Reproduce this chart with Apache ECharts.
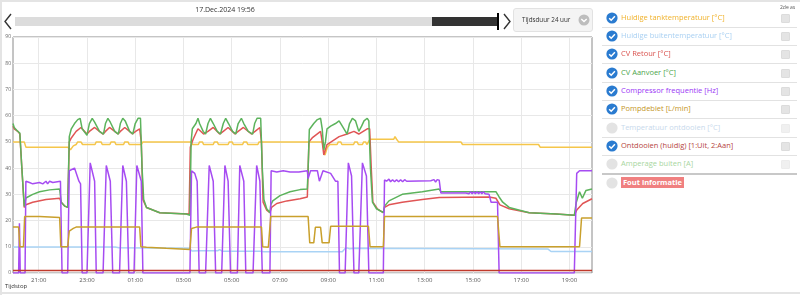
<!DOCTYPE html>
<html><head><meta charset="utf-8">
<script src="https://cdn.jsdelivr.net/npm/echarts@6/dist/echarts.min.js"></script>
<style>
html,body{margin:0;padding:0;width:800px;height:295px;overflow:hidden;background:#fff;font-family:'Open Sans',sans-serif;}
.abs{position:absolute;}
#chart{position:absolute;left:0;top:0;width:600px;height:295px;}
#title{left:0;top:5px;width:450px;text-align:center;font-size:7px;color:#333;}
#btn{left:513px;top:8px;width:78px;height:22px;background:#f4f4f4;border:1px solid #e2e2e2;border-radius:3px;}
#btn span{position:absolute;left:8px;top:6px;font-size:6.3px;color:#333;white-space:nowrap;}
.row{position:absolute;left:600px;width:200px;height:18px;}
.row .txt{position:absolute;left:21px;top:3px;font-size:7.5px;white-space:nowrap;line-height:11px;}
.row svg{position:absolute;left:6px;top:3px;}
.row .cb{position:absolute;left:181px;top:5px;width:7px;height:7px;background:#e4e4e4;border:1px solid #dcdcdc;border-radius:1px;}
.sep{position:absolute;left:602px;width:195px;height:1px;background:#e2e2e2;}
</style></head><body>
<div class="abs" style="left:0;top:0;width:800px;height:2px;background:#e4e4e4"></div>
<div class="abs" style="left:0;top:0;width:2px;height:295px;background:#e4e4e4"></div>
<div class="abs" style="left:0;top:292px;width:800px;height:2px;background:#e4e4e4"></div>
<div id="chart"></div>
<div id="title" class="abs">17.Dec.2024 19:56</div>
<svg class="abs" style="left:3px;top:13px" width="10" height="17"><polyline points="8,1 2,8.5 8,16" fill="none" stroke="#333" stroke-width="1.4"/></svg>
<div class="abs" style="left:15px;top:17px;width:417px;height:9px;background:#dcdcdc"></div>
<div class="abs" style="left:432px;top:17px;width:65px;height:9px;background:#333"></div>
<div class="abs" style="left:497px;top:13px;width:2px;height:17px;background:#000"></div>
<svg class="abs" style="left:502px;top:13px" width="10" height="17"><polyline points="2,1 8,8.5 2,16" fill="none" stroke="#333" stroke-width="1.4"/></svg>
<div id="btn" class="abs"><span>Tijdsduur 24 uur</span>
<svg style="position:absolute;left:64px;top:5px" width="12" height="12"><circle cx="6" cy="6" r="5.5" fill="#bdbdbd"/><polyline points="3.3,5 6,7.6 8.7,5" fill="none" stroke="#fff" stroke-width="1.4"/></svg></div>
<div class="abs" style="left:5px;top:282px;font-size:6px;color:#333">Tijdstop</div>
<div class="abs" style="left:780px;top:4px;font-size:5px;color:#555">2de as</div>
<div id="legend"></div>
<script>
// ---- data (time "HH:MM", value) ----
const legendNames = ["Huidige tanktemperatuur [°C]","Huidige buitentemperatuur [°C]","CV Retour [°C]","CV Aanvoer [°C]","Compressor frequentie [Hz]","Pompdebiet [L/min]","Temperatuur ontdooien [°C]","Ontdooien (huidig) [1:Uit, 2:Aan]","Amperage buiten [A]","Fout informatie"];
const legendChecked = [true,true,true,true,true,true,false,true,false,false];
const xTickLabels = ["21:00","23:00","01:00","03:00","05:00","07:00","09:00","11:00","13:00","15:00","17:00","19:00"];
const startTime = "19:56";
const endTime = "19:56";

const tankTemp = [["19:56",50],["20:24",50],["20:28",48],["22:12",48],["22:19",47],["22:26",48.5],["22:33",49],["22:37",50],["22:45",50],["22:49",49],["23:20",49],["23:23",50],["23:35",50],["23:38",49],["23:57",49],["00:00",50],["00:09",50],["00:12",49],["00:31",49],["00:34",50],["00:42",50],["00:45",49],["01:15",49],["01:19",50],["03:18",50],["03:22",49],["03:37",49],["03:40",50],["03:47",50],["03:50",49],["04:14",49],["04:17",50],["04:24",50],["04:27",49],["04:51",49],["04:54",50],["05:01",50],["05:04",49],["05:27",49],["05:30",50],["05:37",50],["05:40",49],["06:05",49],["06:08",50],["06:13",50],["06:16",49.5],["06:20",50],["08:45",50],["08:52",45],["08:58",48],["09:04",49],["09:22",49],["09:25",50],["09:31",50],["09:34",49],["10:03",49],["10:06",50],["10:12",50],["10:15",49],["10:25",49],["10:28",50],["10:33",50],["10:36",49],["10:40",49],["10:44",51],["11:43",51],["11:46",52],["11:50",51],["11:55",50],["14:30",50],["14:34",49],["17:43",49],["17:47",48],["19:56",48]];
const outdoorTemp = [["19:56",9.9],["00:10",9.9],["00:14",10.3],["00:20",9.6],["03:15",9.4],["03:21",8.4],["03:40",8.5],["04:25",8.5],["04:30",8.9],["04:36",8.3],["06:10",8.3],["06:14",9],["06:20",8.1],["09:35",8.1],["09:42",9.3],["09:47",9.6],["09:53",9.2],["10:05",9.4],["12:12",9.3],["12:15",9.9],["12:18",9.3],["12:40",9.3],["12:43",9.9],["12:46",9.3],["18:06",9.2],["18:14",8.2],["19:56",8.2]];
const cvRetour = [["19:56",56],["19:59",55],["20:08",54],["20:13",53],["20:18",40],["20:24",25],["20:28",26],["20:45",27],["21:18",28],["21:52",28.5],["21:56",27],["22:05",25.5],["22:12",25],["22:16",50],["22:21",51.5],["22:33",54],["22:45",55.5],["23:00",53],["23:06",54],["23:19",55.5],["23:31",54],["23:40",53],["23:46",54],["23:56",55.5],["00:09",54],["00:17",53],["00:23",54],["00:34",55.5],["00:46",54],["00:53",53],["01:01",54],["01:11",55],["01:15",50],["01:19",28],["01:28",25],["02:01",23],["03:14",22.5],["03:17",48],["03:24",51],["03:36",55],["03:50",53],["04:01",54],["04:14",55.5],["04:30",53],["04:39",54],["04:51",55.5],["05:08",53],["05:16",54],["05:29",55.5],["05:49",53],["05:58",54],["06:10",55.5],["06:14",50],["06:18",27],["06:27",24],["06:35",23],["06:39",25],["06:52",26.5],["07:17",27.5],["07:50",28.3],["08:08",29],["08:12",50],["08:20",51.5],["08:41",54],["08:45",50],["08:49",45],["08:57",49],["09:27",52],["09:47",53],["10:04",54],["10:16",53],["10:37",55],["10:43",55],["10:47",40],["10:51",27],["11:02",24.5],["11:17",23],["11:20",25],["11:31",26],["12:04",27],["12:54",28],["13:36",28.8],["15:40",29],["15:57",28.5],["16:07",26],["16:30",24.5],["17:20",23],["18:27",22.5],["19:12",22],["19:18",24],["19:33",26.5],["19:56",28.3]];
const cvAanvoer = [["19:56",57],["19:59",55.5],["20:08",54],["20:13",53.4],["20:18",40],["20:24",25.4],["20:28",28.6],["20:45",30],["21:02",31],["21:27",31.7],["21:52",32],["21:56",27],["22:05",25.5],["22:12",25],["22:16",52],["22:21",55],["22:29",57],["22:37",58.5],["22:43",59],["22:48",55],["23:00",52.5],["23:06",57],["23:13",59],["23:19",57.5],["23:31",54],["23:41",53],["23:46",57],["23:52",59],["23:58",57.5],["00:09",54],["00:18",53],["00:23",57],["00:29",59],["00:35",58],["00:46",54],["00:54",53],["01:00",57],["01:07",59],["01:13",59],["01:17",40],["01:21",28],["01:28",25],["02:01",23],["03:07",22.5],["03:16",22],["03:19",50],["03:22",55],["03:31",57],["03:36",59],["03:40",57],["03:49",54],["03:55",53],["04:01",57],["04:07",59],["04:14",57],["04:24",54],["04:32",53],["04:39",57],["04:45",59],["04:52",57],["05:02",54],["05:10",53],["05:16",57],["05:24",59],["05:30",57],["05:41",54],["05:52",53],["05:57",57],["06:03",59],["06:12",59],["06:16",40],["06:20",28],["06:27",24.5],["06:35",23],["06:37",26],["06:42",27.5],["07:00",29.5],["07:25",31],["07:50",31.8],["08:08",32],["08:10",40],["08:13",54.7],["08:24",57],["08:33",58.5],["08:41",59],["08:45",55],["08:49",47],["08:53",50],["08:57",55],["09:06",56],["09:18",57],["09:27",58],["09:35",56],["09:47",53],["09:53",57],["10:00",59],["10:08",58],["10:16",54],["10:23",56],["10:29",58],["10:37",59],["10:41",58],["10:45",40],["10:50",27],["11:00",24.5],["11:17",23],["11:20",25.5],["11:31",27.5],["12:04",30],["12:54",31],["13:36",32],["13:40",31],["15:57",31],["16:05",29],["16:14",27],["16:30",25],["17:20",23],["18:27",22.5],["19:12",22],["19:17",27],["19:25",31],["19:32",28.5],["19:41",31.5],["19:56",32]];
const compressorFreq = [["19:56",0],["20:10",0],["20:12",19],["20:14",0],["20:26",0],["20:28",35],["20:37",34.5],["20:45",34],["21:02",34.5],["21:10",34],["21:18",35],["21:22",34],["21:27",35],["21:35",34.5],["21:54",35],["21:58",0],["22:12",0],["22:16",39],["22:29",40],["22:40",35],["22:44",34],["22:48",0],["23:00",0],["23:08",42],["23:19",35],["23:23",0],["23:40",0],["23:48",41],["23:58",35],["00:04",0],["00:21",0],["00:29",41],["00:38",35],["00:44",0],["00:57",0],["01:04",41],["01:15",35],["01:19",0],["03:16",0],["03:20",39],["03:28",38],["03:34",35],["03:39",0],["03:55",0],["04:04",41],["04:14",35],["04:20",0],["04:35",0],["04:43",41],["04:51",35],["04:57",0],["05:14",0],["05:20",41],["05:30",35],["05:35",0],["05:53",0],["06:02",41],["06:10",35],["06:16",0],["06:35",0],["06:38",39],["06:52",38.5],["07:08",39],["07:25",38.5],["07:47",38.5],["08:08",39],["08:10",36],["08:16",39],["08:33",39],["08:38",35],["08:42",35],["08:47",39],["09:06",38],["09:18",35],["09:24",35],["09:28",0],["09:42",0],["09:50",42],["09:58",37],["10:04",0],["10:16",0],["10:25",42],["10:35",37],["10:41",0],["11:17",0],["11:20",35.5],["11:25",35],["11:31",35.8],["11:35",34.8],["11:40",35.6],["11:45",34.8],["11:50",35.6],["11:55",34.8],["12:00",35.6],["12:05",34.8],["12:10",35.6],["12:15",35],["13:15",35.2],["13:19",34.7],["13:23",35.6],["13:27",34.7],["13:31",35.6],["13:36",35.4],["13:40",30.5],["14:42",30.5],["14:46",31],["14:50",30.2],["14:54",31],["14:58",30.2],["15:02",31],["15:06",30.2],["15:10",31],["15:14",30.2],["15:18",31],["15:22",30.2],["15:26",31],["15:30",30.2],["15:40",30],["15:45",27],["16:01",27],["16:05",0],["19:12",0],["19:18",38],["19:25",39],["19:56",39]];
const pompDebiet = [["19:56",17.5],["20:10",17.5],["20:13",10],["20:22",10],["20:25",21.5],["21:02",21.5],["21:52",21.2],["21:55",10],["22:12",10],["22:16",16],["22:26",17],["22:33",17.5],["01:11",17.5],["01:14",10],["01:28",9.8],["02:17",9.4],["03:16",9],["03:20",17],["03:32",17.5],["06:14",17.5],["06:17",10],["06:31",9.8],["06:37",21.5],["08:10",21.5],["08:14",11.5],["08:24",11.5],["08:28",17.4],["08:41",17.4],["08:45",11.5],["09:02",11.5],["09:06",17.8],["10:40",17.8],["10:44",10],["11:17",10],["11:20",21.5],["16:01",21.5],["16:07",10],["19:25",10],["19:30",21],["19:56",21]];
const ontdooien = [["19:56",1],["07:00",1],["19:56",1]];

const seriesData = [tankTemp, outdoorTemp, cvRetour, cvAanvoer, compressorFreq, pompDebiet, null, ontdooien, null, null];
const lineColors = ["#f5c64a","#a9d3f5","#e05555","#5cb35c","#a64cf2","#c9a02c",null,"#c0392b",null,null];
const textColors = ["#f0b22c","#a9d0f2","#d9534f","#4ea64e","#9b36f5","#c4951e","#c8d9ec","#b5443e","#a8d6a0","#fff"];

function toHours(list){
  let day = 0, prev = -1;
  return list.map(([t,v]) => {
    const p = t.split(':').map(Number);
    let h = p[0] + p[1]/60 + day*24;
    if (h < prev) { day++; h += 24; }
    prev = h;
    return [h, v];
  });
}
const sp = startTime.split(':').map(Number);
const xMin = sp[0] + sp[1]/60;
const xMax = xMin + 24;
const tickVals = xTickLabels.map(l => { let h = +l.split(':')[0]; if (h < 19.9) h += 24; return h; });

// legend panel
const leg = document.getElementById('legend');
let html = '';
for (let i = 0; i < legendNames.length; i++) {
  const top = 8.5 + i*18.35;
  const on = legendChecked[i];
  const icon = on
    ? '<svg width="12" height="12"><circle cx="6" cy="6" r="5.6" fill="#2a7bd0"/><polyline points="3.2,6.2 5.2,8.2 8.9,4.2" fill="none" stroke="#fff" stroke-width="1.5"/></svg>'
    : '<svg width="12" height="12"><circle cx="6" cy="6" r="5.6" fill="#e3e3e3"/></svg>';
  let txtStyle = 'color:' + textColors[i];
  if (i === 9) txtStyle = 'color:#fff;background:#f08080;font-weight:bold;padding:0 2px;';
  html += '<div class="row" style="top:' + top + 'px">' + icon + '<span class="txt" style="' + txtStyle + '">' + legendNames[i] + '</span>' + (i < 9 ? '<div class="cb" style="' + (on ? '' : 'background:#f0f0f0;border-color:#ececec') + '"></div>' : '') + '</div>';
  if (i < 9) {
    const sy = 26.5 + i*18.35;
    html += '<div class="sep" style="top:' + sy + 'px;' + (i === 8 ? 'background:#c8c8c8;height:1.5px' : '') + '"></div>';
  }
}
leg.innerHTML = html;

const chart = echarts.init(document.getElementById('chart'), null, {renderer:'canvas'});
const series = [];
for (let i = 0; i < seriesData.length; i++) {
  if (!seriesData[i]) continue;
  series.push({
    name: legendNames[i], type: 'line', data: toHours(seriesData[i]),
    showSymbol: false, symbol: 'none', animation: false,
    lineStyle: {color: lineColors[i], width: 1.5}, itemStyle: {color: lineColors[i]}
  });
}
chart.setOption({
  animation: false,
  textStyle: {fontFamily: 'Open Sans'},
  grid: {left: 13, top: 37, right: 8, bottom: 22, show: true, borderColor: '#8a8a8a', borderWidth: 1, backgroundColor: 'transparent'},
  xAxis: {
    type: 'value', min: xMin, max: xMax,
    axisLine: {show: false}, axisTick: {show: false, customValues: tickVals},
    splitLine: {show: true, lineStyle: {color: '#e8e8e8', width: 1}},
    axisLabel: {customValues: tickVals, fontSize: 6, color: '#555', margin: 4,
      formatter: v => { const h = Math.round(v) % 24; return (h < 10 ? '0' : '') + h + ':00'; }}
  },
  yAxis: {
    type: 'value', min: 0, max: 90, interval: 10,
    axisLine: {show: false}, axisTick: {show: false},
    splitLine: {show: true, lineStyle: {color: '#e8e8e8', width: 1}},
    axisLabel: {fontSize: 5, color: '#666', margin: 2}
  },
  series: series
});
</script>
</body></html>
